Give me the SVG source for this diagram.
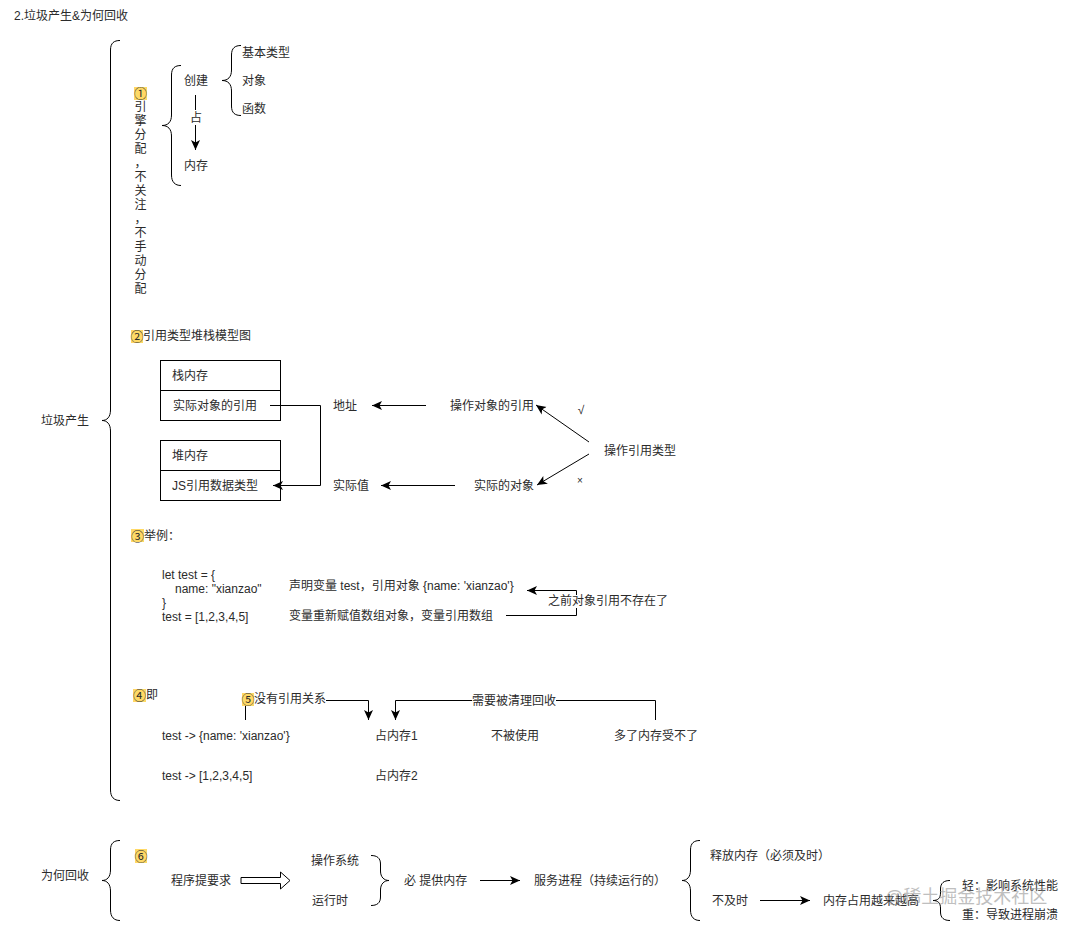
<svg xmlns="http://www.w3.org/2000/svg" width="1071" height="932" viewBox="0 0 1071 932">
<style>
text{font-family:"Liberation Sans","Noto Sans CJK SC",sans-serif;font-size:12px;fill:#2b2b2b}
.d{font-family:"Noto Sans CJK SC",sans-serif;font-size:13px}
.l{fill:none;stroke:#000;stroke-width:1}
.a{marker-end:url(#arrow)}
.box{fill:none;stroke:#000;stroke-width:1}
.hl{fill:#ffd966}
.bg{fill:#fff}
.m{text-anchor:middle}
.wm{font-size:18px;fill:#8c8c8c;opacity:.55}
</style>
<defs>
<marker id="arrow" markerUnits="userSpaceOnUse" markerWidth="11" markerHeight="10" refX="10" refY="5" orient="auto">
<path d="M0,0.5 L10,5 L0,9.5 L2.5,5 Z" fill="#000"/>
</marker>
</defs>
<rect width="1071" height="932" fill="#fff"/>
<g id="connectors">
<path class="l" d="M120,40.5 C114,40.5 110.500,43 110.500,50 V410 C110.500,417 107,420.500 102,420.500 C107,420.500 110.500,424 110.500,431 V790 C110.500,797 114,800.500 120,800.500"/>
<path class="l" d="M181,65.500 C175,65.500 171.500,68 171.500,75 V115 C171.500,122 168,125.500 162,125.500 C168,125.500 171.500,129 171.500,136 V175 C171.500,182 175,185.500 181,185.500"/>
<path class="l" d="M241,45.500 C235,45.500 231.500,48 231.500,55 V70 C231.500,77 228,80.500 222,80.500 C228,80.500 231.500,84 231.500,91 V106 C231.500,113 235,115.500 241,115.500"/>
<path class="l a" d="M195.500,95 V150"/>
<path class="l" d="M270,405.500 H320.500 V485.500"/>
<path class="l a" d="M320.500,485.500 H273"/>
<path class="l a" d="M426,405.500 H372"/>
<path class="l a" d="M455,485.500 H381"/>
<path class="l a" d="M589,442 L536,405"/>
<path class="l a" d="M589,454 L537,485"/>
<path class="l a" d="M506,615.500 H576.500 V590.500 H527"/>
<path class="l" d="M245.500,706 V720"/>
<path class="l a" d="M326,700.500 H368.500 V720"/>
<path class="l a" d="M655.500,720 V700.500 H395.500 V720"/>
<path class="l" d="M120,840.500 C114,840.500 110.500,843 110.500,850 V870 C110.500,877 107,880.500 102,880.500 C107,880.500 110.500,884 110.500,891 V910 C110.500,917 114,920.500 120,920.500"/>
<path d="M241,877.500 H280.500 V872 L290,880.500 L280.500,889 V883.500 H241 Z" fill="#fff" stroke="#000" stroke-width="1"/>
<path class="l" d="M371,855.500 C377,855.500 380.500,858 380.500,864 V871 C380.500,877 384,880.500 389,880.500 C384,880.500 380.500,884 380.500,890 V897 C380.500,903 377,905.500 371,905.500"/>
<path class="l a" d="M480,880.500 H520"/>
<path class="l" d="M700,840.500 C694,840.500 690.500,843 690.500,850 V870 C690.500,877 687,880.500 682,880.500 C687,880.500 690.500,884 690.500,891 V910 C690.500,917 694,920.500 700,920.500"/>
<path class="l a" d="M760,900.500 H810"/>
<path class="l" d="M950,880.500 C944,880.500 940.500,883 940.500,889 V893 C940.500,898 938,900.500 933,900.500 C938,900.500 940.500,903 940.500,908 V912 C940.500,918 944,920.500 950,920.500"/>
</g>
<g id="title"><text x="14" y="20">2.垃圾产生&amp;为何回收</text></g>
<g id="node-garbage"><text x="41" y="425">垃圾产生</text></g>
<g id="node-step1">
<rect class="hl" x="134" y="87" width="13" height="13"/>
<text class="m d" x="140.500" y="98">①</text>
<text class="m" x="140.500" y="111">引</text>
<text class="m" x="140.500" y="125">擎</text>
<text class="m" x="140.500" y="139">分</text>
<text class="m" x="140.500" y="153">配</text>
<text class="m" x="140.500" y="167">，</text>
<text class="m" x="140.500" y="181">不</text>
<text class="m" x="140.500" y="195">关</text>
<text class="m" x="140.500" y="209">注</text>
<text class="m" x="140.500" y="223">，</text>
<text class="m" x="140.500" y="237">不</text>
<text class="m" x="140.500" y="251">手</text>
<text class="m" x="140.500" y="265">动</text>
<text class="m" x="140.500" y="279">分</text>
<text class="m" x="140.500" y="293">配</text>
</g>
<g id="node-create"><text class="m" x="196" y="85">创建</text></g>
<g id="node-occupy"><rect class="bg" x="189" y="110" width="13" height="15"/><text class="m" x="196" y="122">占</text></g>
<g id="node-memory"><text class="m" x="196" y="170">内存</text></g>
<g id="node-basic"><text x="242" y="57">基本类型</text></g>
<g id="node-object"><text x="242" y="85">对象</text></g>
<g id="node-function"><text x="242" y="113">函数</text></g>
<g id="node-step2">
<rect class="hl" x="131" y="330" width="12" height="13"/>
<text x="130.500" y="341" class="d">②</text><text x="143" y="340">引用类型堆栈模型图</text>
</g>
<g id="node-stack">
<rect class="box" x="160.500" y="360.500" width="120" height="30"/>
<rect class="box" x="160.500" y="390.500" width="120" height="30"/>
<text x="172" y="380">栈内存</text>
<text x="173" y="410">实际对象的引用</text>
</g>
<g id="node-heap">
<rect class="box" x="160.500" y="440.500" width="120" height="30"/>
<rect class="box" x="160.500" y="470.500" width="120" height="30"/>
<text x="172" y="460">堆内存</text>
<text x="172" y="490">JS引用数据类型</text>
</g>
<g id="node-address"><text class="m" x="345" y="410">地址</text></g>
<g id="node-value"><text class="m" x="351" y="490">实际值</text></g>
<g id="node-opref"><text x="450" y="410">操作对象的引用</text></g>
<g id="node-actual"><text x="474" y="490">实际的对象</text></g>
<g id="node-optype"><text x="604" y="455">操作引用类型</text></g>
<g id="node-check"><text class="m" x="581" y="414">√</text></g>
<g id="node-cross"><text class="m" x="580" y="484" style="font-size:10px">×</text></g>
<g id="node-step3">
<rect class="hl" x="131" y="529" width="13" height="13"/>
<text x="131" y="541" class="d">③</text><text x="144" y="540">举例：</text>
</g>
<g id="node-code">
<text x="162" y="579">let test = {</text>
<text x="175" y="593">name: "xianzao"</text>
<text x="162" y="607">}</text>
<text x="162" y="621">test = [1,2,3,4,5]</text>
</g>
<g id="node-declare"><text x="289" y="590">声明变量 test，引用对象 {name: 'xianzao'}</text></g>
<g id="node-assign"><text x="289" y="620">变量重新赋值数组对象，变量引用数组</text></g>
<g id="node-gone"><rect class="bg" x="548" y="595" width="120" height="13"/><text x="548" y="605">之前对象引用不存在了</text></g>
<g id="node-step4">
<rect class="hl" x="133" y="689" width="13" height="13"/>
<text x="133" y="700" class="d">④</text><text x="146" y="699">即</text>
</g>
<g id="node-step5">
<rect class="hl" x="242" y="693" width="12" height="13"/>
<text x="241.500" y="704" class="d">⑤</text><text x="254" y="703">没有引用关系</text>
</g>
<g id="node-ref1"><text x="162" y="740">test -&gt; {name: 'xianzao'}</text></g>
<g id="node-ref2"><text x="162" y="780">test -&gt; [1,2,3,4,5]</text></g>
<g id="node-mem1"><text x="375" y="740">占内存1</text></g>
<g id="node-mem2"><text x="375" y="780">占内存2</text></g>
<g id="node-unused"><text x="491" y="740">不被使用</text></g>
<g id="node-toomuch"><text x="614" y="740">多了内存受不了</text></g>
<g id="node-clean"><rect class="bg" x="472" y="694" width="84" height="13"/><text x="472" y="705">需要被清理回收</text></g>
<g id="node-why"><text x="41" y="880">为何回收</text></g>
<g id="node-step6">
<rect class="hl" x="135" y="849" width="12" height="14"/>
<text class="m d" x="141" y="861">⑥</text>
</g>
<g id="node-request"><text x="171" y="885">程序提要求</text></g>
<g id="node-os"><text x="311" y="865">操作系统</text></g>
<g id="node-runtime"><text x="312" y="905">运行时</text></g>
<g id="node-provide"><text x="404" y="885">必 提供内存</text></g>
<g id="node-service"><text x="534" y="885">服务进程（持续运行的）</text></g>
<g id="node-release"><text x="710" y="860">释放内存（必须及时）</text></g>
<g id="node-late"><text x="712" y="905">不及时</text></g>
<g id="node-high"><text x="823" y="905">内存占用越来越高</text></g>
<g id="node-light"><text x="962" y="890">轻：影响系统性能</text></g>
<g id="node-heavy"><text x="962" y="919">重：导致进程崩溃</text></g>
<g id="watermark"><text class="wm" x="885" y="903">@稀土掘金技术社区</text></g>
</svg>
